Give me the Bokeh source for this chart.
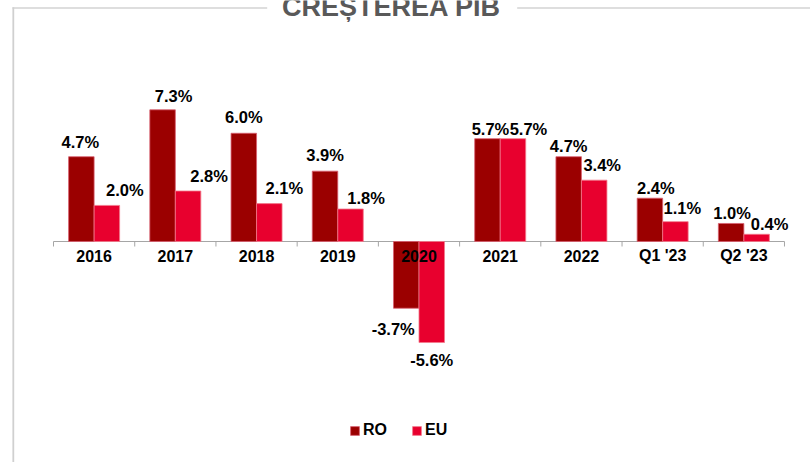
import numpy as np
from bokeh.plotting import figure
from bokeh.models import Range1d, Legend, LegendItem
from bokeh.core.properties import value
from bokeh.embed import file_html
from bokeh.resources import INLINE

# ---------------- data ----------------
categories = ["2016", "2017", "2018", "2019", "2020", "2021", "2022", "Q1 '23", "Q2 '23"]
ro = [4.7, 7.3, 6.0, 3.9, -3.7, 5.7, 4.7, 2.4, 1.0]
eu = [2.0, 2.8, 2.1, 1.8, -5.6, 5.7, 3.4, 1.1, 0.4]
series = ["RO", "EU"]
title = "CREȘTEREA PIB"

# label nudges in pixels (dx right, up = distance above bar end)
ro_dx = [-1, 11, 0, 0, -13, 3, 0, 6, 1]
ro_up = [15, 14, 16, 16, -21, 9.5, 10.5, 10, 10.5]
eu_dx = [18, 21, 15, 15.5, 0, 15.5, 8, 7, 13]
eu_up = [15.5, 14.7, 15.5, 11, -17, 9.5, 15.5, 13.7, 10.5]

# ---------------- style / layout ----------------
RO_C = "#9B0000"
EU_C = "#E8002E"
FONT = value("Liberation Sans")
W, H = 810, 462
LEFT = 53.0      # px of first category edge
CW = 81.22       # px per category
Y0 = 241.0       # px of zero line
PPU = 18.04      # px per percent
BW = 0.314       # bar width (category units)


def X(px):
    return (px - LEFT) / CW


def Y(py):
    return (Y0 - py) / PPU


p = figure(width=W, height=H,
           x_range=Range1d(X(0), X(W)), y_range=Range1d(Y(H), Y(0)),
           output_backend="svg", toolbar_location=None,
           x_axis_location=None, y_axis_location=None,
           min_border=0, outline_line_color=None,
           background_fill_color="white", border_fill_color="white")
for g in p.grid:
    g.visible = False

n = len(categories)
xc = np.arange(n) + 0.5
x_ro = xc - BW / 2
x_eu = xc + BW / 2

# frame decoration: top line with title gap, left line
p.segment(x0=[X(12), X(516.7)], y0=[Y(7.5)] * 2, x1=[X(266.7), X(W)], y1=[Y(7.5)] * 2,
          line_color="#D3D3D3", line_width=1.6)
p.segment(x0=[X(12.8)], y0=[Y(6.7)], x1=[X(12.8)], y1=[Y(H)],
          line_color="#D0D0D0", line_width=1.8)
p.text(x=[X(391)], y=[Y(6.5)], text=[title], text_align="center",
       text_baseline="alphabetic", text_font=FONT, text_font_style="bold",
       text_font_size="27px", text_color="#595959")

# category axis at zero
edges = np.arange(n + 1)
p.segment(x0=[0], y0=[0], x1=[n], y1=[0], line_color="#A6A6A6", line_width=1.2)
p.segment(x0=edges, y0=[0] * (n + 1), x1=edges, y1=[Y(Y0 + 5)] * (n + 1),
          line_color="#A6A6A6", line_width=1)

# bars
r_ro = p.vbar(x=x_ro, top=ro, bottom=0, width=BW, fill_color=RO_C,
              line_color="#D86070", line_width=0.8)
r_eu = p.vbar(x=x_eu, top=eu, bottom=0, width=BW, fill_color=EU_C,
              line_color="#F27A8C", line_width=0.8)

# category labels
p.text(x=xc, y=[0] * n, text=categories, y_offset=14, text_align="center",
       text_baseline="middle", text_font=FONT, text_font_style="bold",
       text_font_size="16px", text_color="black")

# value labels
p.text(x=x_ro, y=ro, text=[f"{v:.1f}%" for v in ro], x_offset=ro_dx,
       y_offset=[-u for u in ro_up], text_align="center", text_baseline="middle",
       text_font=FONT, text_font_style="bold", text_font_size="16.5px", text_color="black")
p.text(x=x_eu, y=eu, text=[f"{v:.1f}%" for v in eu], x_offset=eu_dx,
       y_offset=[-u for u in eu_up], text_align="center", text_baseline="middle",
       text_font=FONT, text_font_style="bold", text_font_size="16.5px", text_color="black")

legend = Legend(items=[LegendItem(label=series[0], renderers=[r_ro]),
                       LegendItem(label=series[1], renderers=[r_eu])],
                orientation="horizontal", location=(349, 23),
                glyph_width=11, glyph_height=11, label_standoff=3, spacing=24,
                padding=0, margin=0, border_line_color=None,
                background_fill_alpha=0, label_height=12,
                label_text_font="Liberation Sans", label_text_font_style="bold",
                label_text_font_size="16px", label_text_color="black")
p.add_layout(legend)

open("out.html", "w").write(file_html(p, INLINE))
